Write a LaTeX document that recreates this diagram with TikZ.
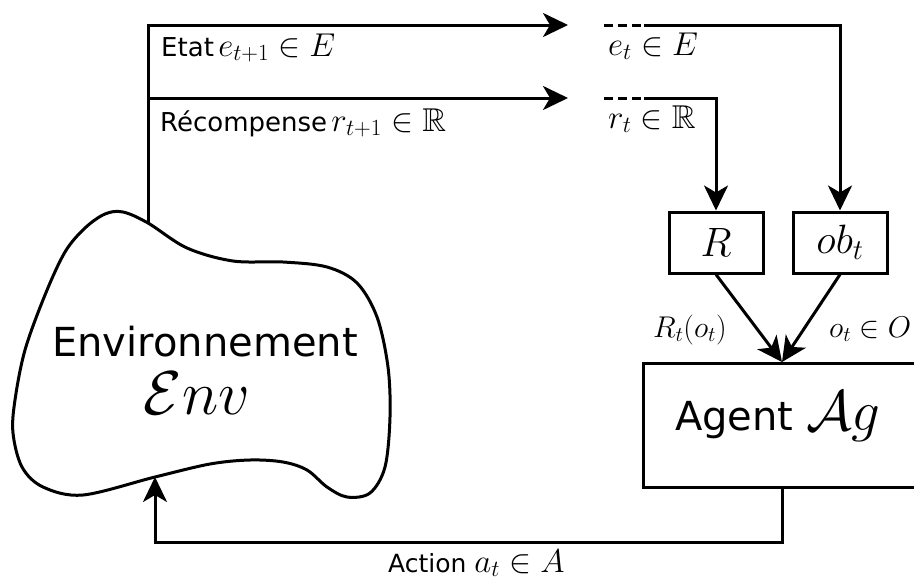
\RequirePackage{fix-cm}
\documentclass[tikz,border=0pt]{standalone}
\usepackage[no-math]{fontspec}
\setmainfont{DejaVu Sans}
\usepackage{amsmath,amssymb}
\usetikzlibrary{arrows.meta}

% math inside the small labels is set larger than the sans text
\newcommand{\lblmath}[1]{{\fontsize{33}{36}\selectfont$#1$}}

\tikzset{
  wire/.style={line width=3pt},
  flow/.style={wire, -{Stealth[length=25pt,width=24pt,inset=7pt]}},
  lbl/.style={anchor=base west, inner sep=0pt, font=\fontsize{26}{30}\selectfont},
  smallbox/.style={draw, line width=3pt, minimum width=94pt, minimum height=61pt,
                   inner sep=0pt, font=\fontsize{41}{48}\selectfont},
  dashwire/.style={wire, dash pattern=on 9pt off 5pt},
}

\begin{document}
\begin{tikzpicture}[x=1pt, y=-1pt]
\useasboundingbox (0,0) rectangle (914,581);
\clip (0,0) rectangle (914,581);

% environment outline
\draw[wire] plot[smooth cycle, tension=0.55] coordinates {
  (123,212) (148,223) (187,248) (233,261) (283,262) (327,267) (357,283)
  (377,317) (388,367) (390,417) (385,467) (370,493) (347,497) (327,487)
  (307,470) (283,462) (250,460) (210,464) (155,477) (83,495) (43,487)
  (22,467) (13,433) (15,400) (25,350) (45,295) (65,252) (85,228) (105,214)};
\coordinate (envtop) at (148,223);
\coordinate (envbot) at (155,477);
\node[anchor=north, inner sep=0pt, align=center, font=\fontsize{40}{58}\selectfont]
  (envname) at (205,325.8)
  {Environnement\\{\fontsize{62}{58}\selectfont$\mathcal{E}nv$\hspace*{16pt}}};

% outgoing state and reward
\coordinate (tipE) at (568,25);
\coordinate (split) at (148,98);
\coordinate (tipR) at (568,98);
\draw[flow] (envtop) |- (tipE);
\draw[flow] (split) -- (tipR);
\node[lbl] (lblE) at (161,56) {Etat\,\lblmath{e_{t+1} \in E}};
\node[lbl] (lblR) at (160,131) {Récompense\,\lblmath{r_{t+1} \in \mathbb{R}}};

% next time step: dashed lead-in, then the solid wire
\coordinate (eA) at (604,25);
\coordinate (eD) at (641,25);
\coordinate (eB) at (644,25);
\coordinate (rA) at (604,98);
\coordinate (rD) at (641,98);
\coordinate (rB) at (644,98);
\draw[dashwire] (eA) -- (eD);
\draw[dashwire] (rA) -- (rD);
\node[lbl] (lble) at (608,55) {\lblmath{e_t \in E}};
\node[lbl] (lblr) at (608,128) {\lblmath{r_t \in \mathbb{R}}};

% reward and observation boxes
\node[smallbox] (Rbox) at (716,242.5) {$R$};
\node[smallbox] (obbox) at (840,242.5) {$ob_t$};
\draw[flow] (rB) -| (Rbox.north);
\draw[flow] (eB) -| (obbox.north);

% agent
\node[draw, line width=3pt, minimum width=310pt, minimum height=124pt,
      anchor=north west, inner sep=0pt] (agent) at (642,362) {};
\node[anchor=base west, inner sep=0pt, font=\fontsize{40}{48}\selectfont] (agtxt) at (675,430)
  {Agent {\fontsize{57}{64}\selectfont$\mathcal{A}g$}};
\coordinate (agin) at (782,362);
\coordinate (agout) at (782,486);
\draw[flow] (Rbox.south) -- (agin);
\draw[flow] (obbox.south) -- (agin);
\node[lbl, font=\fontsize{30}{34}\selectfont] (lblRo) at (653,337) {$R_t(o_t)$};
\node[lbl, font=\fontsize{30}{34}\selectfont] (lblo) at (829,337) {$o_t \in O$};

% action back to the environment
\coordinate (bend) at (782,542);
\draw[flow] (agout) -- (bend) -| (envbot);
\node[lbl, font=\fontsize{25}{30}\selectfont] (lbla) at (388,572) {Action \lblmath{a_t \in A}};
\end{tikzpicture}
\end{document}
